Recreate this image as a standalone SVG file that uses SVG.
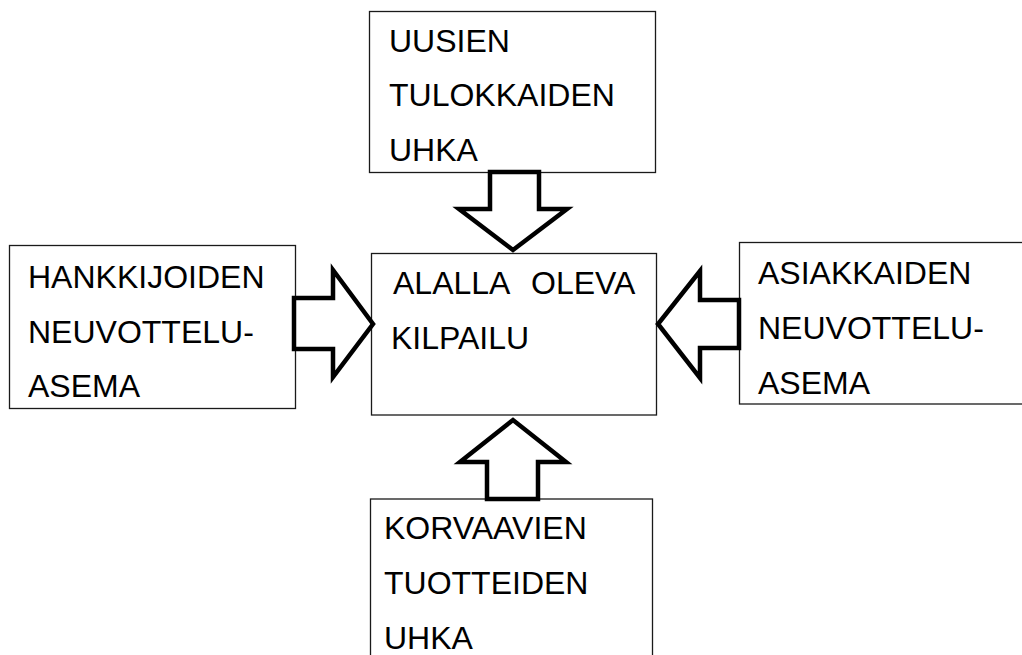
<svg xmlns="http://www.w3.org/2000/svg" width="1022" height="655" viewBox="0 0 1022 655">
  <style>
    .box { fill: #ffffff; stroke: #1a1a1a; stroke-width: 1.3; }
    .label { font-family: "Liberation Sans", Arial, sans-serif; font-size: 32px; fill: #000000; }
    .arrow { fill: #ffffff; stroke: #000000; stroke-width: 4.5; stroke-linejoin: miter; }
  </style>
  <rect width="1022" height="655" fill="#ffffff"/>

  <!-- Five forces boxes -->
  <g id="node-uudet-tulokkaat">
    <rect class="box" x="369.5" y="11.5" width="286" height="161"/>
    <text class="label" x="389" y="52">UUSIEN</text>
    <text class="label" x="389" y="106">TULOKKAIDEN</text>
    <text class="label" x="389" y="161">UHKA</text>
  </g>

  <g id="node-kilpailu">
    <rect class="box" x="371.5" y="253.5" width="285" height="161.5"/>
    <text class="label" y="294"><tspan x="393">ALALLA</tspan><tspan x="531">OLEVA</tspan></text>
    <text class="label" x="391" y="349">KILPAILU</text>
  </g>

  <g id="node-hankkijat">
    <rect class="box" x="9.5" y="245.5" width="286" height="163"/>
    <text class="label" x="28" y="288">HANKKIJOIDEN</text>
    <text class="label" x="28" y="343">NEUVOTTELU-</text>
    <text class="label" x="28" y="397">ASEMA</text>
  </g>

  <g id="node-asiakkaat">
    <rect class="box" x="739.5" y="242.5" width="300" height="161.5"/>
    <text class="label" x="758" y="284">ASIAKKAIDEN</text>
    <text class="label" x="758" y="339">NEUVOTTELU-</text>
    <text class="label" x="758" y="394">ASEMA</text>
  </g>

  <g id="node-korvaavat">
    <rect class="box" x="370.5" y="499" width="282" height="170"/>
    <text class="label" x="384" y="539">KORVAAVIEN</text>
    <text class="label" x="384" y="594">TUOTTEIDEN</text>
    <text class="label" x="384" y="649">UHKA</text>
  </g>

  <!-- Block arrows pointing at the central box -->
  <g id="connectors">
    <polygon class="arrow" points="490,172 539,172 539,209 567,209 513,250 459,209 490,209"/>
    <polygon class="arrow" points="294,298 333,298 333,270 373,324 333,377 333,349 294,349"/>
    <polygon class="arrow" points="739,300 700,300 700,271 658,324 700,378 700,348 739,348"/>
    <polygon class="arrow" points="487,499 538,499 538,462 566,462 513,420 460,462 487,462"/>
  </g>
</svg>
